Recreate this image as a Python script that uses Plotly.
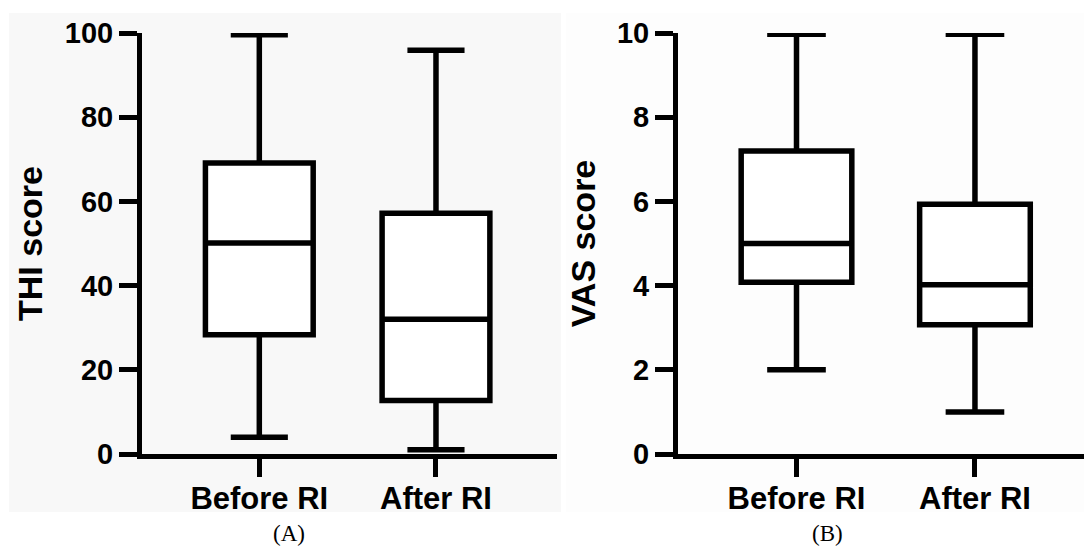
import plotly.graph_objects as go

W, H = 1084, 547

categories = ["Before RI", "After RI"]

# Panel A: THI score
thi_lower = [4, 1]
thi_q1 = [28.3, 12.7]
thi_median = [50.1, 32.0]
thi_q3 = [69.1, 57.2]
thi_upper = [99.6, 95.9]

# Panel B: VAS score
vas_lower = [2.0, 1.0]
vas_q1 = [4.08, 3.07]
vas_median = [5.0, 4.02]
vas_q3 = [7.2, 5.93]
vas_upper = [9.97, 9.97]

thi_ticks = [0, 20, 40, 60, 80, 100]
vas_ticks = [0, 2, 4, 6, 8, 10]

LW = 5.5
BLACK = "#000000"
SANS = "Arial, Liberation Sans, sans-serif"
SERIF = "Times New Roman, Liberation Serif, serif"
TICK_FONT = dict(family=SANS, size=29, color=BLACK, weight="bold")
XTICK_FONT = dict(family=SANS, size=31, color=BLACK, weight="bold")
TITLE_FONT = dict(family=SANS, size=34, color=BLACK, weight="bold")

fig = go.Figure()

fig.add_trace(go.Box(
    x=categories, q1=thi_q1, median=thi_median, q3=thi_q3,
    lowerfence=thi_lower, upperfence=thi_upper,
    xaxis="x", yaxis="y",
    line=dict(color=BLACK, width=LW), fillcolor="rgba(255,255,255,1)",
    width=0.61, whiskerwidth=0.53, boxpoints=False, showlegend=False,
    hoverinfo="skip",
))
fig.add_trace(go.Box(
    x=categories, q1=vas_q1, median=vas_median, q3=vas_q3,
    lowerfence=vas_lower, upperfence=vas_upper,
    xaxis="x2", yaxis="y2",
    line=dict(color=BLACK, width=LW), fillcolor="rgba(255,255,255,1)",
    width=0.62, whiskerwidth=0.53, boxpoints=False, showlegend=False,
    hoverinfo="skip",
))

def px_x(p):
    return p / W

def px_y(p):
    return (H - p) / H

ydom = [px_y(454), px_y(33)]

common_axis = dict(
    showline=True, linecolor=BLACK, linewidth=5,
    ticks="outside", ticklen=18, tickwidth=5, tickcolor=BLACK,
    showgrid=False, zeroline=False, fixedrange=True, automargin=False,
)

fig.update_layout(
    template="none",
    width=W, height=H,
    margin=dict(l=0, r=0, t=0, b=0, pad=0),
    paper_bgcolor="white",
    plot_bgcolor="rgba(0,0,0,0)",
    boxmode="overlay",
    xaxis=dict(domain=[px_x(142), px_x(557)], anchor="y", type="category",
               categoryorder="array", categoryarray=categories,
               range=[-0.664, 1.685], tickfont=XTICK_FONT,
               ticklabelstandoff=-5, **common_axis),
    yaxis=dict(domain=ydom, anchor="x", range=[0, 100],
               tickmode="array", tickvals=thi_ticks, tickfont=TICK_FONT,
               title=dict(text="THI score", font=TITLE_FONT, standoff=13),
               **common_axis),
    xaxis2=dict(domain=[px_x(678), 1.0], anchor="y2", type="category",
                categoryorder="array", categoryarray=categories,
                range=[-0.664, 1.611], tickfont=XTICK_FONT,
                ticklabelstandoff=-5, **common_axis),
    yaxis2=dict(domain=ydom, anchor="x2", range=[0, 10],
                tickmode="array", tickvals=vas_ticks, tickfont=TICK_FONT,
                title=dict(text="VAS score", font=TITLE_FONT, standoff=13),
                **common_axis),
    shapes=[
        dict(type="rect", xref="paper", yref="paper", layer="below",
             x0=px_x(9), x1=px_x(561), y0=px_y(512), y1=px_y(13),
             fillcolor="#f8f8f8", line=dict(width=0)),
        dict(type="rect", xref="paper", yref="paper", layer="below",
             x0=px_x(566), x1=1.0, y0=px_y(512), y1=px_y(13),
             fillcolor="#fdfdfd", line=dict(width=0)),
    ],
    annotations=[
        dict(text="(A)", x=px_x(289), y=0, xref="paper", yref="paper",
             showarrow=False, xanchor="center", yanchor="bottom", borderpad=0,
             font=dict(family=SERIF, size=23, color=BLACK)),
        dict(text="(B)", x=px_x(827), y=0, xref="paper", yref="paper",
             showarrow=False, xanchor="center", yanchor="bottom", borderpad=0,
             font=dict(family=SERIF, size=23, color=BLACK)),
    ],
)

fig.write_html("out.html")
